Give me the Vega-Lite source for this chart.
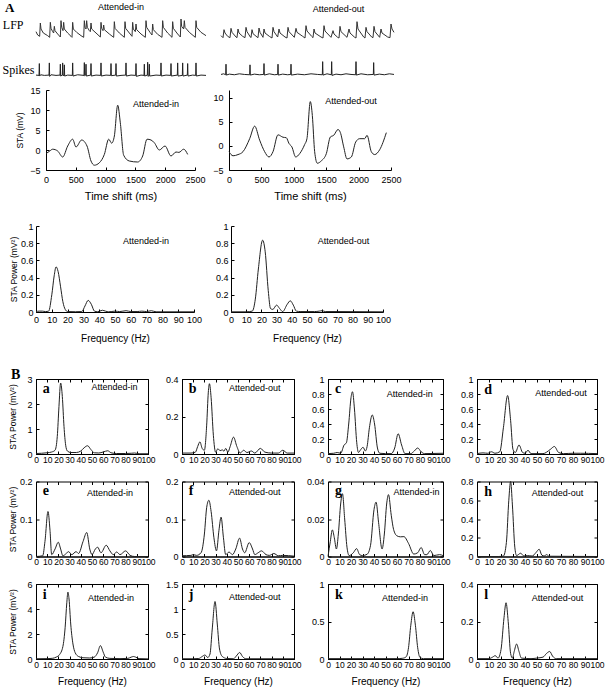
{
"$schema": "https://vega.github.io/schema/vega-lite/v6.json",
"padding": {"left": 1, "top": 2, "right": 0, "bottom": 0},
"background": "white",
"spacing": 24,
"datasets": {
"lfpL": [{"t":0,"v":22},{"t":5,"v":12},{"t":11,"v":8},{"t":13,"v":48},{"t":15,"v":30},{"t":22,"v":18},{"t":35,"v":10},{"t":41,"v":5},{"t":43,"v":50},{"t":45,"v":32},{"t":50,"v":22},{"t":53,"v":18},{"t":55,"v":38},{"t":57,"v":25},{"t":65,"v":15},{"t":73,"v":6},{"t":75,"v":55},{"t":77,"v":35},{"t":81,"v":25},{"t":83,"v":50},{"t":85,"v":30},{"t":95,"v":18},{"t":105,"v":8},{"t":108,"v":5},{"t":110,"v":50},{"t":112,"v":30},{"t":122,"v":20},{"t":135,"v":10},{"t":143,"v":5},{"t":145,"v":55},{"t":147,"v":35},{"t":150,"v":30},{"t":152,"v":55},{"t":154,"v":35},{"t":160,"v":25},{"t":163,"v":22},{"t":165,"v":48},{"t":167,"v":30},{"t":180,"v":18},{"t":193,"v":6},{"t":195,"v":50},{"t":197,"v":32},{"t":201,"v":25},{"t":203,"v":42},{"t":205,"v":28},{"t":220,"v":15},{"t":233,"v":5},{"t":235,"v":52},{"t":237,"v":32},{"t":250,"v":18},{"t":265,"v":5},{"t":267,"v":52},{"t":269,"v":32},{"t":280,"v":18},{"t":288,"v":8},{"t":290,"v":50},{"t":292,"v":30},{"t":298,"v":22},{"t":300,"v":45},{"t":302,"v":28},{"t":315,"v":15},{"t":328,"v":5},{"t":330,"v":55},{"t":332,"v":35},{"t":342,"v":20},{"t":348,"v":12},{"t":350,"v":45},{"t":352,"v":28},{"t":365,"v":14},{"t":378,"v":5},{"t":380,"v":55},{"t":382,"v":35},{"t":395,"v":18},{"t":408,"v":5},{"t":410,"v":52},{"t":412,"v":32},{"t":425,"v":15},{"t":433,"v":6},{"t":435,"v":60},{"t":437,"v":38},{"t":443,"v":30},{"t":445,"v":55},{"t":447,"v":35},{"t":460,"v":20},{"t":478,"v":5},{"t":480,"v":55},{"t":482,"v":35},{"t":495,"v":20},{"t":510,"v":10}],
"lfpR": [{"t":0,"v":10},{"t":6,"v":4},{"t":9,"v":28},{"t":12,"v":18},{"t":20,"v":8},{"t":27,"v":4},{"t":30,"v":32},{"t":33,"v":20},{"t":45,"v":6},{"t":48,"v":4},{"t":51,"v":30},{"t":54,"v":18},{"t":65,"v":8},{"t":72,"v":4},{"t":75,"v":35},{"t":78,"v":22},{"t":88,"v":6},{"t":90,"v":4},{"t":93,"v":28},{"t":96,"v":16},{"t":108,"v":6},{"t":111,"v":4},{"t":114,"v":33},{"t":117,"v":20},{"t":126,"v":5},{"t":129,"v":30},{"t":132,"v":18},{"t":145,"v":8},{"t":153,"v":3},{"t":156,"v":35},{"t":159,"v":22},{"t":170,"v":6},{"t":174,"v":30},{"t":177,"v":18},{"t":192,"v":6},{"t":198,"v":3},{"t":201,"v":35},{"t":204,"v":22},{"t":220,"v":5},{"t":225,"v":32},{"t":228,"v":20},{"t":245,"v":8},{"t":252,"v":3},{"t":255,"v":40},{"t":258,"v":24},{"t":272,"v":8},{"t":276,"v":4},{"t":279,"v":30},{"t":282,"v":18},{"t":300,"v":6},{"t":306,"v":3},{"t":309,"v":40},{"t":312,"v":24},{"t":330,"v":5},{"t":336,"v":25},{"t":339,"v":15},{"t":350,"v":5},{"t":354,"v":3},{"t":357,"v":38},{"t":360,"v":22},{"t":378,"v":5},{"t":384,"v":30},{"t":387,"v":18},{"t":400,"v":6},{"t":405,"v":3},{"t":408,"v":52},{"t":411,"v":30},{"t":428,"v":6},{"t":432,"v":3},{"t":435,"v":35},{"t":438,"v":22},{"t":452,"v":6},{"t":456,"v":4},{"t":459,"v":38},{"t":462,"v":22},{"t":476,"v":5},{"t":480,"v":30},{"t":483,"v":18},{"t":500,"v":6},{"t":507,"v":4},{"t":510,"v":45},{"t":513,"v":30},{"t":519,"v":20}],
"spL": [{"t":0,"v":6},{"t":9,"v":5},{"t":10,"v":42},{"t":11,"v":3},{"t":14,"v":7},{"t":25,"v":5},{"t":39,"v":6},{"t":40,"v":44},{"t":41,"v":2},{"t":45,"v":7},{"t":60,"v":5},{"t":72,"v":6},{"t":73,"v":40},{"t":74,"v":3},{"t":79,"v":6},{"t":80,"v":44},{"t":81,"v":4},{"t":84,"v":6},{"t":85,"v":38},{"t":86,"v":3},{"t":95,"v":6},{"t":109,"v":5},{"t":110,"v":44},{"t":111,"v":3},{"t":125,"v":7},{"t":144,"v":5},{"t":145,"v":45},{"t":146,"v":4},{"t":149,"v":6},{"t":150,"v":40},{"t":151,"v":3},{"t":164,"v":6},{"t":165,"v":42},{"t":166,"v":3},{"t":180,"v":6},{"t":194,"v":5},{"t":195,"v":44},{"t":196,"v":3},{"t":210,"v":6},{"t":224,"v":5},{"t":225,"v":42},{"t":226,"v":4},{"t":239,"v":6},{"t":240,"v":42},{"t":241,"v":3},{"t":255,"v":5},{"t":269,"v":6},{"t":270,"v":44},{"t":271,"v":3},{"t":285,"v":6},{"t":299,"v":5},{"t":300,"v":42},{"t":301,"v":2},{"t":315,"v":6},{"t":324,"v":5},{"t":325,"v":40},{"t":326,"v":3},{"t":334,"v":6},{"t":335,"v":46},{"t":336,"v":2},{"t":339,"v":5},{"t":340,"v":40},{"t":341,"v":3},{"t":360,"v":6},{"t":374,"v":5},{"t":375,"v":44},{"t":376,"v":3},{"t":390,"v":6},{"t":404,"v":5},{"t":405,"v":42},{"t":406,"v":3},{"t":424,"v":6},{"t":425,"v":44},{"t":426,"v":3},{"t":439,"v":5},{"t":440,"v":44},{"t":441,"v":3},{"t":454,"v":6},{"t":455,"v":42},{"t":456,"v":3},{"t":470,"v":6},{"t":479,"v":5},{"t":480,"v":44},{"t":481,"v":3},{"t":495,"v":6},{"t":510,"v":5}],
"spR": [{"t":0,"v":8},{"t":8,"v":10},{"t":14,"v":7},{"t":15,"v":40},{"t":16,"v":6},{"t":25,"v":9},{"t":40,"v":7},{"t":55,"v":10},{"t":70,"v":8},{"t":86,"v":7},{"t":87,"v":38},{"t":88,"v":6},{"t":100,"v":9},{"t":115,"v":7},{"t":128,"v":8},{"t":129,"v":42},{"t":130,"v":6},{"t":145,"v":10},{"t":160,"v":7},{"t":170,"v":8},{"t":171,"v":40},{"t":172,"v":6},{"t":185,"v":9},{"t":200,"v":7},{"t":209,"v":8},{"t":210,"v":40},{"t":211,"v":6},{"t":230,"v":9},{"t":250,"v":7},{"t":270,"v":10},{"t":290,"v":8},{"t":304,"v":7},{"t":305,"v":48},{"t":306,"v":6},{"t":318,"v":10},{"t":331,"v":7},{"t":332,"v":48},{"t":333,"v":5},{"t":345,"v":9},{"t":360,"v":7},{"t":375,"v":10},{"t":390,"v":8},{"t":404,"v":7},{"t":405,"v":48},{"t":406,"v":6},{"t":420,"v":10},{"t":440,"v":7},{"t":457,"v":8},{"t":458,"v":45},{"t":459,"v":6},{"t":475,"v":9},{"t":490,"v":7},{"t":505,"v":10},{"t":519,"v":8}],
"staL": [{"t":0,"v":-0.9},{"t":60,"v":-0.3},{"t":112,"v":0.2},{"t":196,"v":-0.25},{"t":280,"v":-1.75},{"t":364,"v":1},{"t":447,"v":2.7},{"t":503,"v":0.75},{"t":598,"v":2.5},{"t":688,"v":1},{"t":755,"v":-2.75},{"t":811,"v":-3.8},{"t":895,"v":-3.2},{"t":979,"v":-1.1},{"t":1052,"v":2.7},{"t":1102,"v":1.7},{"t":1147,"v":3.5},{"t":1203,"v":11.2},{"t":1247,"v":6.8},{"t":1303,"v":-1.3},{"t":1398,"v":-2.75},{"t":1538,"v":-3},{"t":1622,"v":-1.5},{"t":1695,"v":2.7},{"t":1762,"v":2.5},{"t":1818,"v":1.8},{"t":1901,"v":0},{"t":1997,"v":1},{"t":2097,"v":-1.5},{"t":2181,"v":-0.5},{"t":2230,"v":-0.6},{"t":2310,"v":0.2},{"t":2377,"v":-1.1}],
"staR": [{"t":0,"v":-1.2},{"t":62,"v":-2.05},{"t":139,"v":-1.8},{"t":216,"v":-1.2},{"t":319,"v":1.5},{"t":396,"v":4.1},{"t":473,"v":1.2},{"t":550,"v":-1.2},{"t":617,"v":-2.3},{"t":679,"v":-1.2},{"t":756,"v":2.3},{"t":833,"v":1.8},{"t":884,"v":1.7},{"t":926,"v":0.5},{"t":970,"v":-0.2},{"t":1029,"v":-2.3},{"t":1091,"v":-1.6},{"t":1168,"v":0.3},{"t":1203,"v":1.5},{"t":1255,"v":9.2},{"t":1286,"v":6.3},{"t":1322,"v":-1.2},{"t":1363,"v":-3.6},{"t":1425,"v":-3.1},{"t":1502,"v":-1.6},{"t":1564,"v":1.85},{"t":1616,"v":2.2},{"t":1682,"v":3.4},{"t":1718,"v":2.8},{"t":1770,"v":-0.2},{"t":1821,"v":-2.7},{"t":1888,"v":-2.3},{"t":1955,"v":0.8},{"t":2017,"v":1.5},{"t":2094,"v":1.5},{"t":2130,"v":2.2},{"t":2196,"v":-1.2},{"t":2248,"v":-1.8},{"t":2325,"v":-0.8},{"t":2428,"v":2.75}],
"pwL": [{"f":0,"p":0.005},{"f":2,"p":0.01},{"f":4,"p":0.01},{"f":6,"p":0.005},{"f":8,"p":0.01},{"f":10,"p":0.2},{"f":11.5,"p":0.42},{"f":12.7,"p":0.525},{"f":14,"p":0.47},{"f":15.5,"p":0.3},{"f":17,"p":0.12},{"f":18.5,"p":0.03},{"f":20,"p":0.005},{"f":25,"p":0.003},{"f":29,"p":0.005},{"f":31,"p":0.07},{"f":33,"p":0.135},{"f":35,"p":0.09},{"f":37,"p":0.01},{"f":39,"p":0.003},{"f":42,"p":0.02},{"f":44,"p":0.01},{"f":46,"p":0.002},{"f":50,"p":0.01},{"f":53,"p":0.005},{"f":57,"p":0.015},{"f":60,"p":0.005},{"f":64,"p":0.005},{"f":67,"p":0.01},{"f":70,"p":0.005},{"f":73,"p":0.015},{"f":76,"p":0.002},{"f":100,"p":0.002}],
"pwR": [{"f":0,"p":0.002},{"f":10,"p":0.002},{"f":14,"p":0.01},{"f":16,"p":0.15},{"f":18,"p":0.5},{"f":20.8,"p":0.835},{"f":22.5,"p":0.7},{"f":24.5,"p":0.25},{"f":26,"p":0.04},{"f":27.5,"p":0.03},{"f":30,"p":0.08},{"f":32,"p":0.04},{"f":34,"p":0.005},{"f":37,"p":0.09},{"f":39,"p":0.13},{"f":41,"p":0.08},{"f":43,"p":0.01},{"f":46,"p":0.005},{"f":55,"p":0.005},{"f":58,"p":0.01},{"f":60,"p":0.015},{"f":62,"p":0.005},{"f":70,"p":0.005},{"f":100,"p":0.002}],
"a": [{"f":0,"p":0.02},{"f":5,"p":0.03},{"f":10,"p":0.05},{"f":14,"p":0.08},{"f":17,"p":0.15},{"f":19,"p":0.7},{"f":20.5,"p":1.9},{"f":22,"p":2.84},{"f":23.5,"p":2.3},{"f":25,"p":1.1},{"f":26.5,"p":0.35},{"f":28,"p":0.12},{"f":31,"p":0.06},{"f":36,"p":0.06},{"f":40,"p":0.12},{"f":43,"p":0.25},{"f":46,"p":0.33},{"f":49,"p":0.18},{"f":52,"p":0.05},{"f":56,"p":0.04},{"f":60,"p":0.08},{"f":64,"p":0.13},{"f":67,"p":0.05},{"f":72,"p":0.02},{"f":80,"p":0.02},{"f":85,"p":0.03},{"f":88,"p":0.04},{"f":92,"p":0.01},{"f":100,"p":0.01}],
"b": [{"f":0,"p":0.005},{"f":8,"p":0.005},{"f":12,"p":0.01},{"f":14,"p":0.04},{"f":16,"p":0.065},{"f":18,"p":0.03},{"f":20,"p":0.02},{"f":22,"p":0.15},{"f":23.5,"p":0.33},{"f":24.5,"p":0.375},{"f":26,"p":0.3},{"f":28,"p":0.1},{"f":30,"p":0.01},{"f":32,"p":0.028},{"f":34,"p":0.018},{"f":36,"p":0.022},{"f":37.5,"p":0.015},{"f":39,"p":0.03},{"f":41,"p":0.01},{"f":43,"p":0.04},{"f":46,"p":0.09},{"f":49,"p":0.04},{"f":52,"p":0.005},{"f":55,"p":0.02},{"f":58,"p":0.008},{"f":62,"p":0.016},{"f":65,"p":0.005},{"f":70,"p":0.03},{"f":74,"p":0.01},{"f":80,"p":0.005},{"f":86,"p":0.005},{"f":90,"p":0.02},{"f":94,"p":0.005},{"f":100,"p":0.005}],
"c": [{"f":0,"p":0.005},{"f":5,"p":0.01},{"f":8,"p":0.02},{"f":11,"p":0.01},{"f":14,"p":0.12},{"f":16,"p":0.15},{"f":18,"p":0.4},{"f":20,"p":0.75},{"f":21.3,"p":0.83},{"f":23,"p":0.6},{"f":25,"p":0.15},{"f":26.5,"p":0.02},{"f":28.5,"p":0.06},{"f":30.5,"p":0.09},{"f":32.5,"p":0.04},{"f":34,"p":0.1},{"f":36,"p":0.35},{"f":38.5,"p":0.52},{"f":40.5,"p":0.4},{"f":43,"p":0.08},{"f":45,"p":0.01},{"f":50,"p":0.005},{"f":55,"p":0.005},{"f":58,"p":0.08},{"f":61,"p":0.27},{"f":64,"p":0.12},{"f":67,"p":0.005},{"f":72,"p":0.005},{"f":75,"p":0.04},{"f":78,"p":0.08},{"f":81,"p":0.03},{"f":84,"p":0.005},{"f":100,"p":0.01}],
"d": [{"f":0,"p":0.005},{"f":5,"p":0.015},{"f":9,"p":0.01},{"f":12,"p":0.03},{"f":15,"p":0.01},{"f":19,"p":0.03},{"f":22,"p":0.35},{"f":25.5,"p":0.78},{"f":28,"p":0.45},{"f":30,"p":0.06},{"f":32,"p":0.02},{"f":35,"p":0.12},{"f":38,"p":0.02},{"f":40,"p":0.01},{"f":42.5,"p":0.05},{"f":45,"p":0.005},{"f":55,"p":0.005},{"f":61,"p":0.06},{"f":64.5,"p":0.1},{"f":68,"p":0.02},{"f":72,"p":0.005},{"f":80,"p":0.01},{"f":86,"p":0.01},{"f":100,"p":0.005}],
"e": [{"f":0,"p":0},{"f":6,"p":0.002},{"f":8,"p":0.04},{"f":10.7,"p":0.12},{"f":12.5,"p":0.07},{"f":14,"p":0.005},{"f":17,"p":0.02},{"f":19.9,"p":0.038},{"f":22,"p":0.02},{"f":24,"p":0.002},{"f":27,"p":0.008},{"f":29,"p":0.013},{"f":32,"p":0.005},{"f":35.8,"p":0.013},{"f":38,"p":0.008},{"f":42,"p":0.04},{"f":45.3,"p":0.064},{"f":48,"p":0.02},{"f":50,"p":0.005},{"f":53,"p":0.02},{"f":55,"p":0.025},{"f":58,"p":0.01},{"f":62.7,"p":0.03},{"f":66,"p":0.015},{"f":69,"p":0.005},{"f":72,"p":0.012},{"f":75,"p":0.005},{"f":80,"p":0.015},{"f":84,"p":0.003},{"f":88,"p":0},{"f":100,"p":0}],
"fp": [{"f":0,"p":0.002},{"f":8,"p":0.003},{"f":10,"p":0.005},{"f":13,"p":0.003},{"f":17,"p":0.01},{"f":20,"p":0.06},{"f":22,"p":0.13},{"f":24,"p":0.15},{"f":26,"p":0.12},{"f":28.5,"p":0.05},{"f":30.8,"p":0.015},{"f":33,"p":0.07},{"f":34.9,"p":0.105},{"f":37,"p":0.05},{"f":39,"p":0.005},{"f":42,"p":0.012},{"f":45,"p":0.005},{"f":48,"p":0.02},{"f":51.4,"p":0.049},{"f":54,"p":0.02},{"f":56,"p":0.01},{"f":60,"p":0.037},{"f":63,"p":0.02},{"f":65,"p":0.005},{"f":68,"p":0.01},{"f":71,"p":0.015},{"f":75,"p":0.005},{"f":78,"p":0.003},{"f":82,"p":0.008},{"f":86,"p":0.002},{"f":90,"p":0.003},{"f":100,"p":0.001}],
"g": [{"f":0,"p":0},{"f":2,"p":0.008},{"f":3.8,"p":0.0142},{"f":5.5,"p":0.01},{"f":7.3,"p":0.004},{"f":9,"p":0.012},{"f":11,"p":0.028},{"f":12.6,"p":0.0335},{"f":14.5,"p":0.02},{"f":16.5,"p":0.005},{"f":18.4,"p":0.0005},{"f":22,"p":0.002},{"f":24.9,"p":0.0042},{"f":27.5,"p":0.001},{"f":30,"p":0.0005},{"f":34,"p":0.0012},{"f":37,"p":0.006},{"f":40,"p":0.025},{"f":41.8,"p":0.029},{"f":44,"p":0.018},{"f":47,"p":0.004},{"f":49,"p":0.012},{"f":51,"p":0.028},{"f":52.6,"p":0.033},{"f":55,"p":0.022},{"f":57,"p":0.0145},{"f":60,"p":0.011},{"f":63,"p":0.0105},{"f":66,"p":0.0106},{"f":70,"p":0.007},{"f":74.6,"p":0.0013},{"f":78,"p":0.002},{"f":81,"p":0.0048},{"f":84,"p":0.001},{"f":86,"p":0.001},{"f":89,"p":0.0032},{"f":92,"p":0.0005},{"f":97,"p":0.001},{"f":100,"p":0.0005}],
"h": [{"f":0,"p":0},{"f":18,"p":0},{"f":22,"p":0.005},{"f":24.5,"p":0.15},{"f":26.5,"p":0.6},{"f":28,"p":0.8},{"f":29.5,"p":0.55},{"f":31.5,"p":0.1},{"f":33,"p":0.01},{"f":36.4,"p":0.035},{"f":39,"p":0.005},{"f":42,"p":0.01},{"f":46,"p":0.005},{"f":49,"p":0.04},{"f":51.8,"p":0.077},{"f":54,"p":0.015},{"f":56,"p":0.005},{"f":58,"p":0.02},{"f":60,"p":0.003},{"f":100,"p":0}],
"i": [{"f":0,"p":0.02},{"f":10,"p":0.03},{"f":15,"p":0.06},{"f":18,"p":0.15},{"f":21,"p":0.35},{"f":24,"p":1.0},{"f":26,"p":2.5},{"f":27.5,"p":4.5},{"f":28.5,"p":5.35},{"f":29.5,"p":4.8},{"f":31,"p":2.8},{"f":33,"p":1.2},{"f":35,"p":0.5},{"f":38,"p":0.2},{"f":42,"p":0.1},{"f":48,"p":0.08},{"f":52,"p":0.15},{"f":55,"p":0.5},{"f":57.5,"p":1.07},{"f":60,"p":0.55},{"f":62,"p":0.15},{"f":66,"p":0.05},{"f":75,"p":0.03},{"f":82,"p":0.05},{"f":85,"p":0.15},{"f":87,"p":0.2},{"f":89,"p":0.15},{"f":92,"p":0.03},{"f":100,"p":0.01}],
"j": [{"f":0,"p":0.005},{"f":10,"p":0.005},{"f":15,"p":0.01},{"f":18,"p":0.05},{"f":20.5,"p":0.08},{"f":23,"p":0.03},{"f":25,"p":0.1},{"f":27,"p":0.6},{"f":29.5,"p":1.15},{"f":31.5,"p":0.7},{"f":33.5,"p":0.2},{"f":36,"p":0.05},{"f":40,"p":0.01},{"f":46,"p":0.005},{"f":48.5,"p":0.06},{"f":51.5,"p":0.13},{"f":54,"p":0.05},{"f":57,"p":0.005},{"f":100,"p":0.005}],
"k": [{"f":0,"p":0.005},{"f":60,"p":0.005},{"f":65,"p":0.01},{"f":68,"p":0.03},{"f":70,"p":0.15},{"f":72,"p":0.45},{"f":74,"p":0.63},{"f":76,"p":0.45},{"f":78,"p":0.15},{"f":80,"p":0.02},{"f":83,"p":0.005},{"f":100,"p":0.005}],
"l": [{"f":0,"p":0.002},{"f":10,"p":0.002},{"f":13,"p":0.01},{"f":15.2,"p":0.018},{"f":17.5,"p":0.005},{"f":20,"p":0.05},{"f":22.5,"p":0.22},{"f":24.2,"p":0.3},{"f":26,"p":0.2},{"f":28,"p":0.03},{"f":29.5,"p":0.005},{"f":31,"p":0.04},{"f":33,"p":0.08},{"f":35,"p":0.04},{"f":37,"p":0.005},{"f":45,"p":0.002},{"f":50,"p":0.005},{"f":55,"p":0.01},{"f":58,"p":0.03},{"f":60.6,"p":0.04},{"f":63,"p":0.015},{"f":66,"p":0.002},{"f":100,"p":0.002}]
},
"vconcat": [
{
"title": {"text": "A", "anchor": "start", "frame": "bounds", "font": "Liberation Serif", "fontSize": 13, "fontWeight": "bold", "dx": 3, "offset": -12},
"spacing": 21,
"vconcat": [
{"spacing": 7, "vconcat": [
 {"spacing": 19, "vconcat": [
  {"bounds": "flush", "spacing": 15, "hconcat": [
   {"width": 170, "height": 20, "data": {"name": "lfpL"}, "title": {"text": "Attended-in", "offset": 5},
    "mark": {"type": "line", "color": "#333", "strokeWidth": 1},
    "encoding": {"x": {"field": "t", "type": "quantitative", "scale": {"domain": [0, 510], "nice": false}, "axis": null},
     "y": {"field": "v", "type": "quantitative", "scale": {"domain": [0, 60], "nice": false}, "axis": {"title": "LFP", "titleAngle": 0, "titleFont": "Liberation Serif", "titleFontSize": 12, "titleAlign": "right", "titleAnchor": "end", "titleBaseline": "top", "titlePadding": 13, "labels": false, "ticks": false, "domain": false}}}},
   {"width": 173, "height": 20, "data": {"name": "lfpR"}, "title": {"text": "Attended-out", "offset": 5, "dx": 31},
    "mark": {"type": "line", "color": "#333", "strokeWidth": 1},
    "encoding": {"x": {"field": "t", "type": "quantitative", "scale": {"domain": [0, 519], "nice": false}, "axis": null},
     "y": {"field": "v", "type": "quantitative", "scale": {"domain": [0, 60], "nice": false}, "axis": null}}}
  ]},
  {"bounds": "flush", "spacing": 15, "hconcat": [
   {"width": 170, "height": 16, "data": {"name": "spL"},
    "mark": {"type": "line", "color": "#222", "strokeWidth": 1},
    "encoding": {"x": {"field": "t", "type": "quantitative", "scale": {"domain": [0, 510], "nice": false}, "axis": null},
     "y": {"field": "v", "type": "quantitative", "scale": {"domain": [0, 50], "nice": false}, "axis": {"title": "Spikes", "titleAngle": 0, "titleFont": "Liberation Serif", "titleFontSize": 12, "titleAlign": "right", "titleAnchor": "middle", "titleBaseline": "middle", "titlePadding": 2, "labels": false, "ticks": false, "domain": false}}}},
   {"width": 173, "height": 16, "data": {"name": "spR"},
    "mark": {"type": "line", "color": "#222", "strokeWidth": 1},
    "encoding": {"x": {"field": "t", "type": "quantitative", "scale": {"domain": [0, 519], "nice": false}, "axis": null},
     "y": {"field": "v", "type": "quantitative", "scale": {"domain": [0, 50], "nice": false}, "axis": null}}}
  ]}
 ]},
 {"bounds": "flush", "spacing": 34, "hconcat": [
  {"width": 159, "height": 80,
   "layer": [
    {"data": {"name": "staL"}, "mark": {"type": "line", "interpolate": "monotone", "color": "#222", "strokeWidth": 1},
     "encoding": {"x": {"field": "t", "type": "quantitative", "scale": {"domain": [0, 2500], "range": [10, 159], "nice": false}, "axis": {"values": [0, 500, 1000, 1500, 2000, 2500], "format": ".2~f", "title": "Time shift (ms)", "titleFontSize": 11, "labelPadding": 8, "titlePadding": 6}},
      "y": {"field": "v", "type": "quantitative", "scale": {"domain": [-5, 15], "nice": false}, "axis": {"values": [-5, 0, 5, 10, 15], "format": ".2~f", "title": "STA (mV)", "offset": -10, "labelPadding": 9, "titlePadding": 5}}}},
    {"data": {"values": [{"cond": "Attended-in"}]}, "mark": {"type": "text", "fontSize": 9, "color": "black"},
     "encoding": {"x": {"datum": 1846, "type": "quantitative", "axis": {"values": [0, 500, 1000, 1500, 2000, 2500], "format": ".2~f", "title": "Time shift (ms)", "titleFontSize": 11, "labelPadding": 8, "titlePadding": 6}}, "y": {"datum": 11.5, "type": "quantitative", "axis": {"values": [-5, 0, 5, 10, 15], "format": ".2~f", "title": "STA (mV)", "offset": -10, "labelPadding": 9, "titlePadding": 5}}, "text": {"field": "cond"}}}
   ]},
  {"width": 162, "height": 80,
   "layer": [
    {"data": {"name": "staR"}, "mark": {"type": "line", "interpolate": "monotone", "color": "#222", "strokeWidth": 1},
     "encoding": {"x": {"field": "t", "type": "quantitative", "scale": {"domain": [0, 2500], "nice": false}, "axis": {"values": [0, 500, 1000, 1500, 2000, 2500], "format": ".2~f", "title": "Time shift (ms)", "titleFontSize": 11, "labelPadding": 8, "titlePadding": 6}},
      "y": {"field": "v", "type": "quantitative", "scale": {"domain": [-5, 11.6], "nice": false}, "axis": {"values": [-5, 0, 5, 10], "format": ".2~f", "title": null, "labelPadding": 9}}}},
    {"data": {"values": [{"cond": "Attended-out"}]}, "mark": {"type": "text", "fontSize": 9, "color": "black"},
     "encoding": {"x": {"datum": 1882, "type": "quantitative", "axis": {"values": [0, 500, 1000, 1500, 2000, 2500], "format": ".2~f", "title": "Time shift (ms)", "titleFontSize": 11, "labelPadding": 8, "titlePadding": 6}}, "y": {"datum": 9.4, "type": "quantitative", "axis": {"values": [-5, 0, 5, 10], "format": ".2~f", "title": null, "labelPadding": 9}}, "text": {"field": "cond"}}}
   ]}
 ]}
]},
{"bounds": "flush", "spacing": 37, "hconcat": [
  {"width": 158, "height": 86,
   "layer": [
    {"data": {"name": "pwL"}, "mark": {"type": "line", "interpolate": "monotone", "color": "#222", "strokeWidth": 1},
     "encoding": {"x": {"field": "f", "type": "quantitative", "scale": {"domain": [0, 100], "nice": false}, "axis": {"values": [0, 10, 20, 30, 40, 50, 60, 70, 80, 90, 100], "format": ".2~f", "title": "Frequency (Hz)", "labelPadding": 6, "titlePadding": 9}},
      "y": {"field": "p", "type": "quantitative", "scale": {"domain": [0, 1], "nice": false}, "axis": {"values": [0, 0.2, 0.4, 0.6, 0.8, 1], "format": ".2~f", "title": "STA Power (mV²)", "labelPadding": 6, "titlePadding": 2}}}},
    {"data": {"values": [{"cond": "Attended-in"}]}, "mark": {"type": "text", "fontSize": 9, "color": "black"},
     "encoding": {"x": {"datum": 69.6, "type": "quantitative", "axis": {"values": [0, 10, 20, 30, 40, 50, 60, 70, 80, 90, 100], "format": ".2~f", "title": "Frequency (Hz)", "labelPadding": 6, "titlePadding": 9}}, "y": {"datum": 0.82, "type": "quantitative", "axis": {"values": [0, 0.2, 0.4, 0.6, 0.8, 1], "format": ".2~f", "title": "STA Power (mV²)", "labelPadding": 6, "titlePadding": 2}}, "text": {"field": "cond"}}}
   ]},
  {"width": 152, "height": 86,
   "layer": [
    {"data": {"name": "pwR"}, "mark": {"type": "line", "interpolate": "monotone", "color": "#222", "strokeWidth": 1},
     "encoding": {"x": {"field": "f", "type": "quantitative", "scale": {"domain": [0, 100], "nice": false}, "axis": {"values": [0, 10, 20, 30, 40, 50, 60, 70, 80, 90, 100], "format": ".2~f", "title": "Frequency (Hz)", "labelPadding": 6, "titlePadding": 9}},
      "y": {"field": "p", "type": "quantitative", "scale": {"domain": [0, 1], "nice": false}, "axis": {"values": [0, 0.2, 0.4, 0.6, 0.8, 1], "format": ".2~f", "title": null, "labelPadding": 6}}}},
    {"data": {"values": [{"cond": "Attended-out"}]}, "mark": {"type": "text", "fontSize": 9, "color": "black"},
     "encoding": {"x": {"datum": 74, "type": "quantitative", "axis": {"values": [0, 10, 20, 30, 40, 50, 60, 70, 80, 90, 100], "format": ".2~f", "title": "Frequency (Hz)", "labelPadding": 6, "titlePadding": 9}}, "y": {"datum": 0.82, "type": "quantitative", "axis": {"values": [0, 0.2, 0.4, 0.6, 0.8, 1], "format": ".2~f", "title": null, "labelPadding": 6}}, "text": {"field": "cond"}}}
   ]}
]}
]
},
{
"title": {"text": "B", "anchor": "start", "frame": "bounds", "font": "Liberation Serif", "fontSize": 14, "fontWeight": "bold", "dx": 3, "offset": -7},
"spacing": 12.5,
"vconcat": [
{"bounds": "flush", "spacing": 34, "hconcat": [
  {"width": 112, "height": 75, "view": {"stroke": "black"}, "resolve": {"axis": {"x": "independent", "y": "independent"}}, "layer": [
   {"data": {"name": "a"}, "mark": {"type": "line", "interpolate": "monotone", "color": "#222", "strokeWidth": 1},
    "encoding": {"x": {"field": "f", "type": "quantitative", "scale": {"domain": [0, 100], "nice": false}, "axis": {"values": [0, 10, 20, 30, 40, 50, 60, 70, 80, 90, 100], "format": ".2~f", "title": null, "labelPadding": 4, "labelFontSize": 8.5}},
     "y": {"field": "p", "type": "quantitative", "scale": {"domain": [0, 3], "nice": false}, "axis": {"values": [0, 1, 2, 3], "format": ".2~f", "title": "STA Power (mV²)", "titlePadding": 9, "labelPadding": 7}}}},
   {"data": {"values": [{"letter": "a", "cond": "Attended-in"}]}, "layer": [
    {"mark": {"type": "text", "font": "Liberation Serif", "fontWeight": "bold", "fontSize": 14, "align": "left", "color": "black"}, "encoding": {"x": {"datum": 6, "type": "quantitative", "axis": {"orient": "top", "values": [0, 10, 20, 30, 40, 50, 60, 70, 80, 90, 100], "labels": false, "title": null, "domain": false}}, "y": {"datum": 2.61, "type": "quantitative", "axis": {"orient": "right", "values": [0, 1, 2, 3], "labels": false, "title": null, "domain": false}}, "text": {"field": "letter"}}},
    {"mark": {"type": "text", "fontSize": 9, "color": "black"}, "encoding": {"x": {"datum": 70, "type": "quantitative", "axis": {"orient": "top", "values": [0, 10, 20, 30, 40, 50, 60, 70, 80, 90, 100], "labels": false, "title": null, "domain": false}}, "y": {"datum": 2.67, "type": "quantitative", "axis": {"orient": "right", "values": [0, 1, 2, 3], "labels": false, "title": null, "domain": false}}, "text": {"field": "cond"}}}
   ]}
  ]},
  {"width": 112, "height": 75, "view": {"stroke": "black"}, "resolve": {"axis": {"x": "independent", "y": "independent"}}, "layer": [
   {"data": {"name": "b"}, "mark": {"type": "line", "interpolate": "monotone", "color": "#222", "strokeWidth": 1},
    "encoding": {"x": {"field": "f", "type": "quantitative", "scale": {"domain": [0, 100], "nice": false}, "axis": {"values": [0, 10, 20, 30, 40, 50, 60, 70, 80, 90, 100], "format": ".2~f", "title": null, "labelPadding": 4, "labelFontSize": 8.5}},
     "y": {"field": "p", "type": "quantitative", "scale": {"domain": [0, 0.4], "nice": false}, "axis": {"values": [0, 0.2, 0.4], "format": ".2~f", "title": null, "labelPadding": 7}}}},
   {"data": {"values": [{"letter": "b", "cond": "Attended-out"}]}, "layer": [
    {"mark": {"type": "text", "font": "Liberation Serif", "fontWeight": "bold", "fontSize": 14, "align": "left", "color": "black"}, "encoding": {"x": {"datum": 6, "type": "quantitative", "axis": {"orient": "top", "values": [0, 10, 20, 30, 40, 50, 60, 70, 80, 90, 100], "labels": false, "title": null, "domain": false}}, "y": {"datum": 0.348, "type": "quantitative", "axis": {"orient": "right", "values": [0, 0.2, 0.4], "labels": false, "title": null, "domain": false}}, "text": {"field": "letter"}}},
    {"mark": {"type": "text", "fontSize": 9, "color": "black"}, "encoding": {"x": {"datum": 65, "type": "quantitative", "axis": {"orient": "top", "values": [0, 10, 20, 30, 40, 50, 60, 70, 80, 90, 100], "labels": false, "title": null, "domain": false}}, "y": {"datum": 0.35, "type": "quantitative", "axis": {"orient": "right", "values": [0, 0.2, 0.4], "labels": false, "title": null, "domain": false}}, "text": {"field": "cond"}}}
   ]}
  ]},
  {"width": 115, "height": 75, "view": {"stroke": "black"}, "resolve": {"axis": {"x": "independent", "y": "independent"}}, "layer": [
   {"data": {"name": "c"}, "mark": {"type": "line", "interpolate": "monotone", "color": "#222", "strokeWidth": 1},
    "encoding": {"x": {"field": "f", "type": "quantitative", "scale": {"domain": [0, 100], "nice": false}, "axis": {"values": [0, 10, 20, 30, 40, 50, 60, 70, 80, 90, 100], "format": ".2~f", "title": null, "labelPadding": 4, "labelFontSize": 8.5}},
     "y": {"field": "p", "type": "quantitative", "scale": {"domain": [0, 1], "nice": false}, "axis": {"values": [0, 0.2, 0.4, 0.6, 0.8, 1], "format": ".2~f", "title": null, "labelPadding": 7}}}},
   {"data": {"values": [{"letter": "c", "cond": "Attended-in"}]}, "layer": [
    {"mark": {"type": "text", "font": "Liberation Serif", "fontWeight": "bold", "fontSize": 14, "align": "left", "color": "black"}, "encoding": {"x": {"datum": 6, "type": "quantitative", "axis": {"orient": "top", "values": [0, 10, 20, 30, 40, 50, 60, 70, 80, 90, 100], "labels": false, "title": null, "domain": false}}, "y": {"datum": 0.87, "type": "quantitative", "axis": {"orient": "right", "values": [0, 0.2, 0.4, 0.6, 0.8, 1], "labels": false, "title": null, "domain": false}}, "text": {"field": "letter"}}},
    {"mark": {"type": "text", "fontSize": 9, "color": "black"}, "encoding": {"x": {"datum": 71, "type": "quantitative", "axis": {"orient": "top", "values": [0, 10, 20, 30, 40, 50, 60, 70, 80, 90, 100], "labels": false, "title": null, "domain": false}}, "y": {"datum": 0.8, "type": "quantitative", "axis": {"orient": "right", "values": [0, 0.2, 0.4, 0.6, 0.8, 1], "labels": false, "title": null, "domain": false}}, "text": {"field": "cond"}}}
   ]}
  ]},
  {"width": 120, "height": 75, "view": {"stroke": "black"}, "resolve": {"axis": {"x": "independent", "y": "independent"}}, "layer": [
   {"data": {"name": "d"}, "mark": {"type": "line", "interpolate": "monotone", "color": "#222", "strokeWidth": 1},
    "encoding": {"x": {"field": "f", "type": "quantitative", "scale": {"domain": [0, 100], "nice": false}, "axis": {"values": [0, 10, 20, 30, 40, 50, 60, 70, 80, 90, 100], "format": ".2~f", "title": null, "labelPadding": 4, "labelFontSize": 8.5}},
     "y": {"field": "p", "type": "quantitative", "scale": {"domain": [0, 1], "nice": false}, "axis": {"values": [0, 0.2, 0.4, 0.6, 0.8, 1], "format": ".2~f", "title": null, "labelPadding": 7}}}},
   {"data": {"values": [{"letter": "d", "cond": "Attended-out"}]}, "layer": [
    {"mark": {"type": "text", "font": "Liberation Serif", "fontWeight": "bold", "fontSize": 14, "align": "left", "color": "black"}, "encoding": {"x": {"datum": 6, "type": "quantitative", "axis": {"orient": "top", "values": [0, 10, 20, 30, 40, 50, 60, 70, 80, 90, 100], "labels": false, "title": null, "domain": false}}, "y": {"datum": 0.86, "type": "quantitative", "axis": {"orient": "right", "values": [0, 0.2, 0.4, 0.6, 0.8, 1], "labels": false, "title": null, "domain": false}}, "text": {"field": "letter"}}},
    {"mark": {"type": "text", "fontSize": 9, "color": "black"}, "encoding": {"x": {"datum": 70, "type": "quantitative", "axis": {"orient": "top", "values": [0, 10, 20, 30, 40, 50, 60, 70, 80, 90, 100], "labels": false, "title": null, "domain": false}}, "y": {"datum": 0.81, "type": "quantitative", "axis": {"orient": "right", "values": [0, 0.2, 0.4, 0.6, 0.8, 1], "labels": false, "title": null, "domain": false}}, "text": {"field": "cond"}}}
   ]}
  ]}
]},
{"bounds": "flush", "spacing": 34, "hconcat": [
  {"width": 112, "height": 75, "view": {"stroke": "black"}, "resolve": {"axis": {"x": "independent", "y": "independent"}}, "layer": [
   {"data": {"name": "e"}, "mark": {"type": "line", "interpolate": "monotone", "color": "#222", "strokeWidth": 1},
    "encoding": {"x": {"field": "f", "type": "quantitative", "scale": {"domain": [0, 100], "nice": false}, "axis": {"values": [0, 10, 20, 30, 40, 50, 60, 70, 80, 90, 100], "format": ".2~f", "title": null, "labelPadding": 4, "labelFontSize": 8.5}},
     "y": {"field": "p", "type": "quantitative", "scale": {"domain": [0, 0.2], "nice": false}, "axis": {"values": [0, 0.1, 0.2], "format": ".2~f", "title": "STA Power (mV²)", "titlePadding": 2, "labelPadding": 7}}}},
   {"data": {"values": [{"letter": "e", "cond": "Attended-in"}]}, "layer": [
    {"mark": {"type": "text", "font": "Liberation Serif", "fontWeight": "bold", "fontSize": 14, "align": "left", "color": "black"}, "encoding": {"x": {"datum": 6, "type": "quantitative", "axis": {"orient": "top", "values": [0, 10, 20, 30, 40, 50, 60, 70, 80, 90, 100], "labels": false, "title": null, "domain": false}}, "y": {"datum": 0.174, "type": "quantitative", "axis": {"orient": "right", "values": [0, 0.1, 0.2], "labels": false, "title": null, "domain": false}}, "text": {"field": "letter"}}},
    {"mark": {"type": "text", "fontSize": 9, "color": "black"}, "encoding": {"x": {"datum": 66, "type": "quantitative", "axis": {"orient": "top", "values": [0, 10, 20, 30, 40, 50, 60, 70, 80, 90, 100], "labels": false, "title": null, "domain": false}}, "y": {"datum": 0.17, "type": "quantitative", "axis": {"orient": "right", "values": [0, 0.1, 0.2], "labels": false, "title": null, "domain": false}}, "text": {"field": "cond"}}}
   ]}
  ]},
  {"width": 112, "height": 75, "view": {"stroke": "black"}, "resolve": {"axis": {"x": "independent", "y": "independent"}}, "layer": [
   {"data": {"name": "fp"}, "mark": {"type": "line", "interpolate": "monotone", "color": "#222", "strokeWidth": 1},
    "encoding": {"x": {"field": "f", "type": "quantitative", "scale": {"domain": [0, 100], "nice": false}, "axis": {"values": [0, 10, 20, 30, 40, 50, 60, 70, 80, 90, 100], "format": ".2~f", "title": null, "labelPadding": 4, "labelFontSize": 8.5}},
     "y": {"field": "p", "type": "quantitative", "scale": {"domain": [0, 0.2], "nice": false}, "axis": {"values": [0, 0.1, 0.2], "format": ".2~f", "title": null, "labelPadding": 7}}}},
   {"data": {"values": [{"letter": "f", "cond": "Attended-out"}]}, "layer": [
    {"mark": {"type": "text", "font": "Liberation Serif", "fontWeight": "bold", "fontSize": 14, "align": "left", "color": "black"}, "encoding": {"x": {"datum": 6, "type": "quantitative", "axis": {"orient": "top", "values": [0, 10, 20, 30, 40, 50, 60, 70, 80, 90, 100], "labels": false, "title": null, "domain": false}}, "y": {"datum": 0.174, "type": "quantitative", "axis": {"orient": "right", "values": [0, 0.1, 0.2], "labels": false, "title": null, "domain": false}}, "text": {"field": "letter"}}},
    {"mark": {"type": "text", "fontSize": 9, "color": "black"}, "encoding": {"x": {"datum": 65, "type": "quantitative", "axis": {"orient": "top", "values": [0, 10, 20, 30, 40, 50, 60, 70, 80, 90, 100], "labels": false, "title": null, "domain": false}}, "y": {"datum": 0.172, "type": "quantitative", "axis": {"orient": "right", "values": [0, 0.1, 0.2], "labels": false, "title": null, "domain": false}}, "text": {"field": "cond"}}}
   ]}
  ]},
  {"width": 115, "height": 75, "view": {"stroke": "black"}, "resolve": {"axis": {"x": "independent", "y": "independent"}}, "layer": [
   {"data": {"name": "g"}, "mark": {"type": "line", "interpolate": "monotone", "color": "#222", "strokeWidth": 1},
    "encoding": {"x": {"field": "f", "type": "quantitative", "scale": {"domain": [0, 100], "nice": false}, "axis": {"values": [0, 10, 20, 30, 40, 50, 60, 70, 80, 90, 100], "format": ".2~f", "title": null, "labelPadding": 4, "labelFontSize": 8.5}},
     "y": {"field": "p", "type": "quantitative", "scale": {"domain": [0, 0.04], "nice": false}, "axis": {"values": [0, 0.02, 0.04], "format": ".2~f", "title": null, "labelPadding": 7}}}},
   {"data": {"values": [{"letter": "g", "cond": "Attended-in"}]}, "layer": [
    {"mark": {"type": "text", "font": "Liberation Serif", "fontWeight": "bold", "fontSize": 14, "align": "left", "color": "black"}, "encoding": {"x": {"datum": 6, "type": "quantitative", "axis": {"orient": "top", "values": [0, 10, 20, 30, 40, 50, 60, 70, 80, 90, 100], "labels": false, "title": null, "domain": false}}, "y": {"datum": 0.0352, "type": "quantitative", "axis": {"orient": "right", "values": [0, 0.02, 0.04], "labels": false, "title": null, "domain": false}}, "text": {"field": "letter"}}},
    {"mark": {"type": "text", "fontSize": 9, "color": "black"}, "encoding": {"x": {"datum": 77, "type": "quantitative", "axis": {"orient": "top", "values": [0, 10, 20, 30, 40, 50, 60, 70, 80, 90, 100], "labels": false, "title": null, "domain": false}}, "y": {"datum": 0.0344, "type": "quantitative", "axis": {"orient": "right", "values": [0, 0.02, 0.04], "labels": false, "title": null, "domain": false}}, "text": {"field": "cond"}}}
   ]}
  ]},
  {"width": 120, "height": 75, "view": {"stroke": "black"}, "resolve": {"axis": {"x": "independent", "y": "independent"}}, "layer": [
   {"data": {"name": "h"}, "mark": {"type": "line", "interpolate": "monotone", "color": "#222", "strokeWidth": 1},
    "encoding": {"x": {"field": "f", "type": "quantitative", "scale": {"domain": [0, 100], "nice": false}, "axis": {"values": [0, 10, 20, 30, 40, 50, 60, 70, 80, 90, 100], "format": ".2~f", "title": null, "labelPadding": 4, "labelFontSize": 8.5}},
     "y": {"field": "p", "type": "quantitative", "scale": {"domain": [0, 0.8], "nice": false}, "axis": {"values": [0, 0.2, 0.4, 0.6, 0.8], "format": ".2~f", "title": null, "labelPadding": 7}}}},
   {"data": {"values": [{"letter": "h", "cond": "Attended-out"}]}, "layer": [
    {"mark": {"type": "text", "font": "Liberation Serif", "fontWeight": "bold", "fontSize": 14, "align": "left", "color": "black"}, "encoding": {"x": {"datum": 6, "type": "quantitative", "axis": {"orient": "top", "values": [0, 10, 20, 30, 40, 50, 60, 70, 80, 90, 100], "labels": false, "title": null, "domain": false}}, "y": {"datum": 0.69, "type": "quantitative", "axis": {"orient": "right", "values": [0, 0.2, 0.4, 0.6, 0.8], "labels": false, "title": null, "domain": false}}, "text": {"field": "letter"}}},
    {"mark": {"type": "text", "fontSize": 9, "color": "black"}, "encoding": {"x": {"datum": 67, "type": "quantitative", "axis": {"orient": "top", "values": [0, 10, 20, 30, 40, 50, 60, 70, 80, 90, 100], "labels": false, "title": null, "domain": false}}, "y": {"datum": 0.68, "type": "quantitative", "axis": {"orient": "right", "values": [0, 0.2, 0.4, 0.6, 0.8], "labels": false, "title": null, "domain": false}}, "text": {"field": "cond"}}}
   ]}
  ]}
]},
{"bounds": "flush", "spacing": 34, "hconcat": [
  {"width": 112, "height": 75, "view": {"stroke": "black"}, "resolve": {"axis": {"x": "independent", "y": "independent"}}, "layer": [
   {"data": {"name": "i"}, "mark": {"type": "line", "interpolate": "monotone", "color": "#222", "strokeWidth": 1},
    "encoding": {"x": {"field": "f", "type": "quantitative", "scale": {"domain": [0, 100], "nice": false}, "axis": {"values": [0, 10, 20, 30, 40, 50, 60, 70, 80, 90, 100], "format": ".2~f", "title": "Frequency (Hz)", "labelPadding": 4, "labelFontSize": 8.5, "titlePadding": 8}},
     "y": {"field": "p", "type": "quantitative", "scale": {"domain": [0, 6], "nice": false}, "axis": {"values": [0, 2, 4, 6], "format": ".2~f", "title": "STA Power (mV²)", "titlePadding": 9, "labelPadding": 7}}}},
   {"data": {"values": [{"letter": "i", "cond": "Attended-in"}]}, "layer": [
    {"mark": {"type": "text", "font": "Liberation Serif", "fontWeight": "bold", "fontSize": 14, "align": "left", "color": "black"}, "encoding": {"x": {"datum": 6, "type": "quantitative", "axis": {"orient": "top", "values": [0, 10, 20, 30, 40, 50, 60, 70, 80, 90, 100], "labels": false, "title": null, "domain": false}}, "y": {"datum": 5.12, "type": "quantitative", "axis": {"orient": "right", "values": [0, 2, 4, 6], "labels": false, "title": null, "domain": false}}, "text": {"field": "letter"}}},
    {"mark": {"type": "text", "fontSize": 9, "color": "black"}, "encoding": {"x": {"datum": 67, "type": "quantitative", "axis": {"orient": "top", "values": [0, 10, 20, 30, 40, 50, 60, 70, 80, 90, 100], "labels": false, "title": null, "domain": false}}, "y": {"datum": 4.85, "type": "quantitative", "axis": {"orient": "right", "values": [0, 2, 4, 6], "labels": false, "title": null, "domain": false}}, "text": {"field": "cond"}}}
   ]}
  ]},
  {"width": 112, "height": 75, "view": {"stroke": "black"}, "resolve": {"axis": {"x": "independent", "y": "independent"}}, "layer": [
   {"data": {"name": "j"}, "mark": {"type": "line", "interpolate": "monotone", "color": "#222", "strokeWidth": 1},
    "encoding": {"x": {"field": "f", "type": "quantitative", "scale": {"domain": [0, 100], "nice": false}, "axis": {"values": [0, 10, 20, 30, 40, 50, 60, 70, 80, 90, 100], "format": ".2~f", "title": "Frequency (Hz)", "labelPadding": 4, "labelFontSize": 8.5, "titlePadding": 8}},
     "y": {"field": "p", "type": "quantitative", "scale": {"domain": [0, 1.5], "nice": false}, "axis": {"values": [0, 0.5, 1, 1.5], "format": ".2~f", "title": null, "labelPadding": 7}}}},
   {"data": {"values": [{"letter": "j", "cond": "Attended-out"}]}, "layer": [
    {"mark": {"type": "text", "font": "Liberation Serif", "fontWeight": "bold", "fontSize": 14, "align": "left", "color": "black"}, "encoding": {"x": {"datum": 6, "type": "quantitative", "axis": {"orient": "top", "values": [0, 10, 20, 30, 40, 50, 60, 70, 80, 90, 100], "labels": false, "title": null, "domain": false}}, "y": {"datum": 1.28, "type": "quantitative", "axis": {"orient": "right", "values": [0, 0.5, 1, 1.5], "labels": false, "title": null, "domain": false}}, "text": {"field": "letter"}}},
    {"mark": {"type": "text", "fontSize": 9, "color": "black"}, "encoding": {"x": {"datum": 65, "type": "quantitative", "axis": {"orient": "top", "values": [0, 10, 20, 30, 40, 50, 60, 70, 80, 90, 100], "labels": false, "title": null, "domain": false}}, "y": {"datum": 1.25, "type": "quantitative", "axis": {"orient": "right", "values": [0, 0.5, 1, 1.5], "labels": false, "title": null, "domain": false}}, "text": {"field": "cond"}}}
   ]}
  ]},
  {"width": 115, "height": 75, "view": {"stroke": "black"}, "resolve": {"axis": {"x": "independent", "y": "independent"}}, "layer": [
   {"data": {"name": "k"}, "mark": {"type": "line", "interpolate": "monotone", "color": "#222", "strokeWidth": 1},
    "encoding": {"x": {"field": "f", "type": "quantitative", "scale": {"domain": [0, 100], "nice": false}, "axis": {"values": [0, 10, 20, 30, 40, 50, 60, 70, 80, 90, 100], "format": ".2~f", "title": "Frequency (Hz)", "labelPadding": 4, "labelFontSize": 8.5, "titlePadding": 8}},
     "y": {"field": "p", "type": "quantitative", "scale": {"domain": [0, 1], "nice": false}, "axis": {"values": [0, 0.5, 1], "format": ".2~f", "title": null, "labelPadding": 7}}}},
   {"data": {"values": [{"letter": "k", "cond": "Attended-in"}]}, "layer": [
    {"mark": {"type": "text", "font": "Liberation Serif", "fontWeight": "bold", "fontSize": 14, "align": "left", "color": "black"}, "encoding": {"x": {"datum": 6, "type": "quantitative", "axis": {"orient": "top", "values": [0, 10, 20, 30, 40, 50, 60, 70, 80, 90, 100], "labels": false, "title": null, "domain": false}}, "y": {"datum": 0.85, "type": "quantitative", "axis": {"orient": "right", "values": [0, 0.5, 1], "labels": false, "title": null, "domain": false}}, "text": {"field": "letter"}}},
    {"mark": {"type": "text", "fontSize": 9, "color": "black"}, "encoding": {"x": {"datum": 67, "type": "quantitative", "axis": {"orient": "top", "values": [0, 10, 20, 30, 40, 50, 60, 70, 80, 90, 100], "labels": false, "title": null, "domain": false}}, "y": {"datum": 0.81, "type": "quantitative", "axis": {"orient": "right", "values": [0, 0.5, 1], "labels": false, "title": null, "domain": false}}, "text": {"field": "cond"}}}
   ]}
  ]},
  {"width": 120, "height": 75, "view": {"stroke": "black"}, "resolve": {"axis": {"x": "independent", "y": "independent"}}, "layer": [
   {"data": {"name": "l"}, "mark": {"type": "line", "interpolate": "monotone", "color": "#222", "strokeWidth": 1},
    "encoding": {"x": {"field": "f", "type": "quantitative", "scale": {"domain": [0, 100], "nice": false}, "axis": {"values": [0, 10, 20, 30, 40, 50, 60, 70, 80, 90, 100], "format": ".2~f", "title": "Frequency (Hz)", "labelPadding": 4, "labelFontSize": 8.5, "titlePadding": 8}},
     "y": {"field": "p", "type": "quantitative", "scale": {"domain": [0, 0.4], "nice": false}, "axis": {"values": [0, 0.2, 0.4], "format": ".2~f", "title": null, "labelPadding": 7}}}},
   {"data": {"values": [{"letter": "l", "cond": "Attended-out"}]}, "layer": [
    {"mark": {"type": "text", "font": "Liberation Serif", "fontWeight": "bold", "fontSize": 14, "align": "left", "color": "black"}, "encoding": {"x": {"datum": 6, "type": "quantitative", "axis": {"orient": "top", "values": [0, 10, 20, 30, 40, 50, 60, 70, 80, 90, 100], "labels": false, "title": null, "domain": false}}, "y": {"datum": 0.34, "type": "quantitative", "axis": {"orient": "right", "values": [0, 0.2, 0.4], "labels": false, "title": null, "domain": false}}, "text": {"field": "letter"}}},
    {"mark": {"type": "text", "fontSize": 9, "color": "black"}, "encoding": {"x": {"datum": 67, "type": "quantitative", "axis": {"orient": "top", "values": [0, 10, 20, 30, 40, 50, 60, 70, 80, 90, 100], "labels": false, "title": null, "domain": false}}, "y": {"datum": 0.325, "type": "quantitative", "axis": {"orient": "right", "values": [0, 0.2, 0.4], "labels": false, "title": null, "domain": false}}, "text": {"field": "cond"}}}
   ]}
  ]}
]}
]
}
],
"config": {
 "font": "Liberation Sans",
 "view": {"stroke": null},
 "title": {"font": "Liberation Sans", "fontSize": 9, "fontWeight": "normal", "color": "black"},
 "axis": {"grid": false, "domainColor": "black", "tickColor": "black", "labelColor": "black", "titleColor": "black", "labelFont": "Liberation Sans", "titleFont": "Liberation Sans", "labelFontSize": 9, "titleFontSize": 10, "titleFontWeight": "normal", "tickSize": -3, "labelOverlap": false, "labelFlush": false, "domainWidth": 1, "tickWidth": 1},
 "axisY": {"titleFontSize": 8.5},
 "text": {"font": "Liberation Sans"}
}
}
